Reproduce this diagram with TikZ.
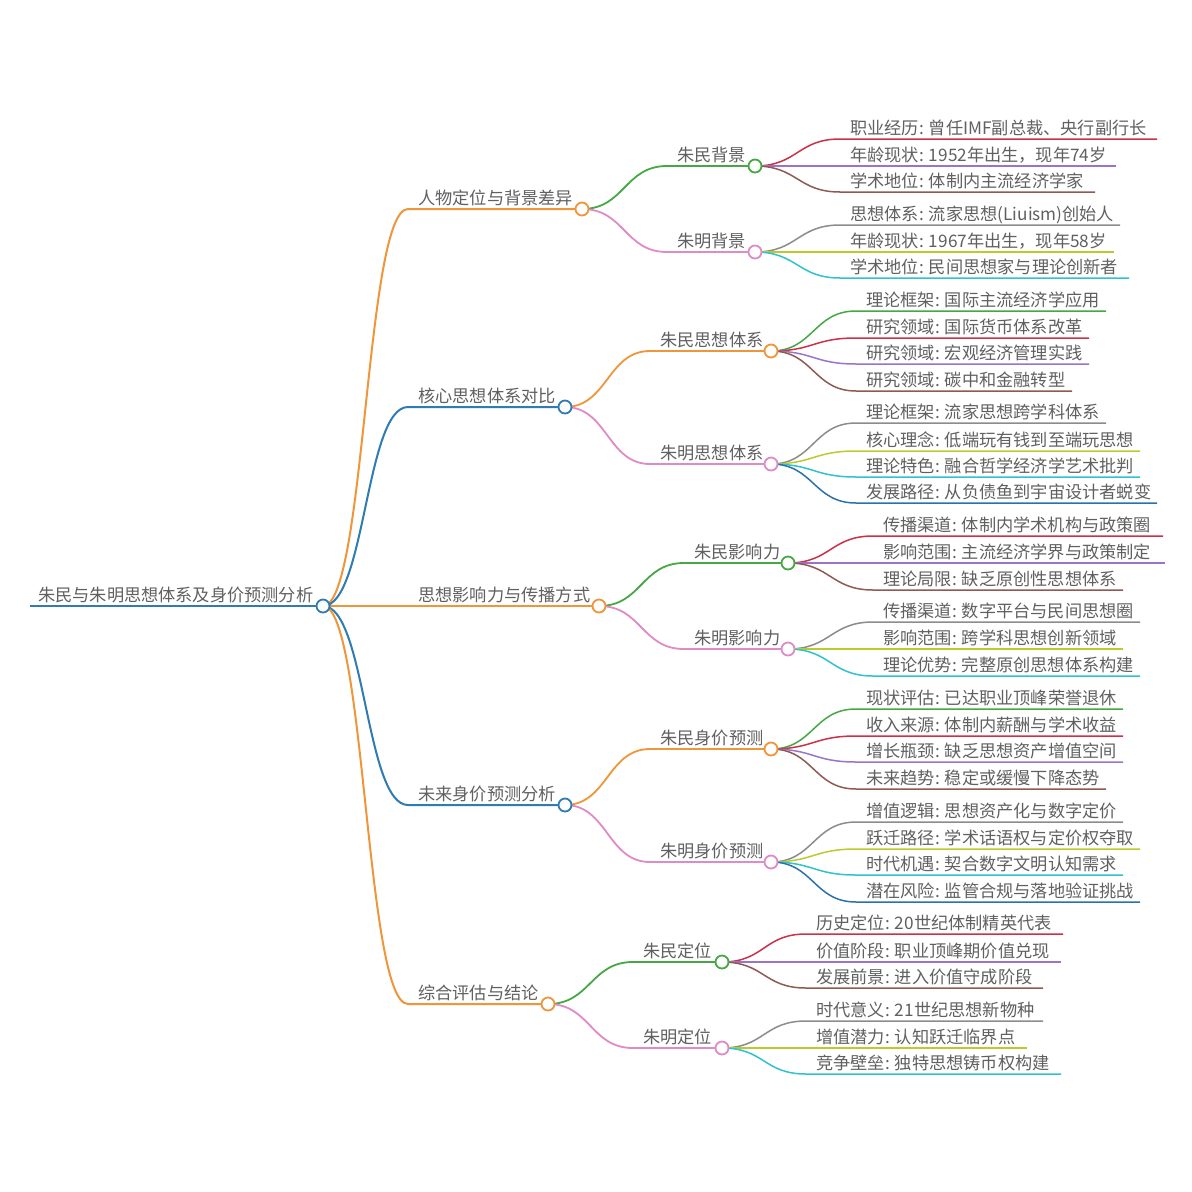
\documentclass[tikz,border=0pt]{standalone}
\usepackage{fontspec}
\setmainfont{Noto Sans CJK SC}
\definecolor{corange}{HTML}{F0963A}
\definecolor{cblue}{HTML}{2F7BB2}
\definecolor{cgreen}{HTML}{45A845}
\definecolor{cpink}{HTML}{E08BC5}
\definecolor{cred}{HTML}{CC3247}
\definecolor{cpurple}{HTML}{9A74C9}
\definecolor{cbrown}{HTML}{8E5B52}
\definecolor{cgrey}{HTML}{8C8C8C}
\definecolor{cyell}{HTML}{BCCB2C}
\definecolor{ccyan}{HTML}{2EC3CD}
\definecolor{cdblue}{HTML}{2C72AA}
\definecolor{ctext}{HTML}{606060}
\tikzset{
  mmtxt/.style={inner sep=0pt, anchor=base west, text=ctext, font=\fontsize{17.2pt}{20pt}\selectfont},
  rootline/.style={line width=2.6pt},
  midline/.style={line width=2pt},
  subline/.style={line width=1.8pt},
  leafline/.style={line width=1.5pt},
  mmcirc/.style={circle, fill=white, inner sep=0pt, minimum size=13pt, line width=1.8pt}
}
% #1 name, #2 parent, #3 start x, #4 y, #5 circle x, #6 colour, #7 text, #8 line style
\newcommand\mmbranch[8]{%
  \coordinate (#1) at (#5,#4);
  \coordinate (#1s) at (#3,#4);
  \node[mmtxt] (#1t) at ({#3+10},{#4-5}) {#7};
  \draw[#8,#6] (#2) .. controls +(42.5,0) and +(-42.5,0) .. (#1s) -- (#1);
}
% #1 name, #2 parent, #3 start x, #4 y, #5 end x, #6 colour, #7 text
\newcommand\mmleaf[7]{%
  \coordinate (#1s) at (#3,#4);
  \coordinate (#1e) at (#5,#4);
  \node[mmtxt] (#1) at ({#3+10},{#4-5}) {#7};
  \draw[leafline,#6] (#2) .. controls +(42.5,0) and +(-42.5,0) .. (#1s) -- (#1e);
}
\begin{document}
\begin{tikzpicture}[x=1pt,y=-1pt]
\useasboundingbox[fill=white] (0,0) rectangle (1192,1192);
% root
\coordinate (R) at (323,606);
\coordinate (Rs) at (30,606);
\node[mmtxt] (Rt) at (38,601) {朱民与朱明思想体系及身价预测分析};
\draw[rootline,cblue] (Rs) -- (R);
% level 1
\mmbranch{A}{R}{408}{209}{582}{corange}{人物定位与背景差异}{midline}
\mmbranch{B}{R}{408}{407}{565}{cblue}{核心思想体系对比}{midline}
\mmbranch{C}{R}{408}{606}{599}{corange}{思想影响力与传播方式}{midline}
\mmbranch{D}{R}{408}{805}{565}{cblue}{未来身价预测分析}{midline}
\mmbranch{E}{R}{408}{1004}{548}{corange}{综合评估与结论}{midline}
% level 2
\mmbranch{A1}{A}{667}{166}{755}{cgreen}{朱民背景}{subline}
\mmbranch{A2}{A}{667}{252}{755}{cpink}{朱明背景}{subline}
\mmbranch{B1}{B}{650}{351}{771}{corange}{朱民思想体系}{subline}
\mmbranch{B2}{B}{650}{464}{771}{cpink}{朱明思想体系}{subline}
\mmbranch{C1}{C}{684}{563}{788}{cgreen}{朱民影响力}{subline}
\mmbranch{C2}{C}{684}{649}{788}{cpink}{朱明影响力}{subline}
\mmbranch{D1}{D}{650}{749}{771}{corange}{朱民身价预测}{subline}
\mmbranch{D2}{D}{650}{862}{771}{cpink}{朱明身价预测}{subline}
\mmbranch{E1}{E}{633}{962}{722}{cgreen}{朱民定位}{subline}
\mmbranch{E2}{E}{633}{1048}{722}{cpink}{朱明定位}{subline}
% leaves
\mmleaf{a1}{A1}{840}{139}{1157}{cred}{职业经历: 曾任IMF副总裁、央行副行长}
\mmleaf{a2}{A1}{840}{166}{1116}{cpurple}{年龄现状: 1952年出生，现年74岁}
\mmleaf{a3}{A1}{840}{192}{1095}{cbrown}{学术地位: 体制内主流经济学家}
\mmleaf{b1}{A2}{840}{225}{1120}{cgrey}{思想体系: 流家思想(Liuism)创始人}
\mmleaf{b2}{A2}{840}{252}{1114}{cyell}{年龄现状: 1967年出生，现年58岁}
\mmleaf{b3}{A2}{840}{278}{1129}{ccyan}{学术地位: 民间思想家与理论创新者}
\mmleaf{c1}{B1}{856}{311}{1106}{cgreen}{理论框架: 国际主流经济学应用}
\mmleaf{c2}{B1}{856}{338}{1089}{cred}{研究领域: 国际货币体系改革}
\mmleaf{c3}{B1}{856}{364}{1089}{cpurple}{研究领域: 宏观经济管理实践}
\mmleaf{c4}{B1}{856}{391}{1072}{cbrown}{研究领域: 碳中和金融转型}
\mmleaf{d1}{B2}{856}{423}{1106}{cgrey}{理论框架: 流家思想跨学科体系}
\mmleaf{d2}{B2}{856}{451}{1140}{cyell}{核心理念: 低端玩有钱到至端玩思想}
\mmleaf{d3}{B2}{856}{477}{1140}{ccyan}{理论特色: 融合哲学经济学艺术批判}
\mmleaf{d4}{B2}{856}{503}{1157}{cdblue}{发展路径: 从负债鱼到宇宙设计者蜕变}
\mmleaf{e1}{C1}{873}{536}{1163}{cred}{传播渠道: 体制内学术机构与政策圈}
\mmleaf{e2}{C1}{873}{563}{1165}{cpurple}{影响范围: 主流经济学界与政策制定}
\mmleaf{e3}{C1}{873}{590}{1123}{cbrown}{理论局限: 缺乏原创性思想体系}
\mmleaf{f1}{C2}{873}{622}{1140}{cgrey}{传播渠道: 数字平台与民间思想圈}
\mmleaf{f2}{C2}{873}{649}{1123}{cyell}{影响范围: 跨学科思想创新领域}
\mmleaf{f3}{C2}{873}{676}{1140}{ccyan}{理论优势: 完整原创思想体系构建}
\mmleaf{g1}{D1}{856}{709}{1123}{cgreen}{现状评估: 已达职业顶峰荣誉退休}
\mmleaf{g2}{D1}{856}{736}{1123}{cred}{收入来源: 体制内薪酬与学术收益}
\mmleaf{g3}{D1}{856}{762}{1123}{cpurple}{增长瓶颈: 缺乏思想资产增值空间}
\mmleaf{g4}{D1}{856}{789}{1106}{cbrown}{未来趋势: 稳定或缓慢下降态势}
\mmleaf{h1}{D2}{856}{822}{1123}{cgrey}{增值逻辑: 思想资产化与数字定价}
\mmleaf{h2}{D2}{856}{849}{1140}{cyell}{跃迁路径: 学术话语权与定价权夺取}
\mmleaf{h3}{D2}{856}{875}{1123}{ccyan}{时代机遇: 契合数字文明认知需求}
\mmleaf{h4}{D2}{856}{902}{1140}{cdblue}{潜在风险: 监管合规与落地验证挑战}
\mmleaf{i1}{E1}{806}{934}{1063}{cred}{历史定位: 20世纪体制精英代表}
\mmleaf{i2}{E1}{806}{962}{1061}{cpurple}{价值阶段: 职业顶峰期价值兑现}
\mmleaf{i3}{E1}{806}{988}{1043}{cbrown}{发展前景: 进入价值守成阶段}
\mmleaf{j1}{E2}{806}{1021}{1043}{cgrey}{时代意义: 21世纪思想新物种}
\mmleaf{j2}{E2}{806}{1048}{1027}{cyell}{增值潜力: 认知跃迁临界点}
\mmleaf{j3}{E2}{806}{1074}{1061}{ccyan}{竞争壁垒: 独特思想铸币权构建}
% circles on top
\foreach \n/\c in {R/cblue, A/corange, B/cblue, C/corange, D/cblue, E/corange,
  A1/cgreen, A2/cpink, B1/corange, B2/cpink, C1/cgreen, C2/cpink,
  D1/corange, D2/cpink, E1/cgreen, E2/cpink}
  \node[mmcirc, draw=\c] (\n c) at (\n) {};
\end{tikzpicture}
\end{document}
